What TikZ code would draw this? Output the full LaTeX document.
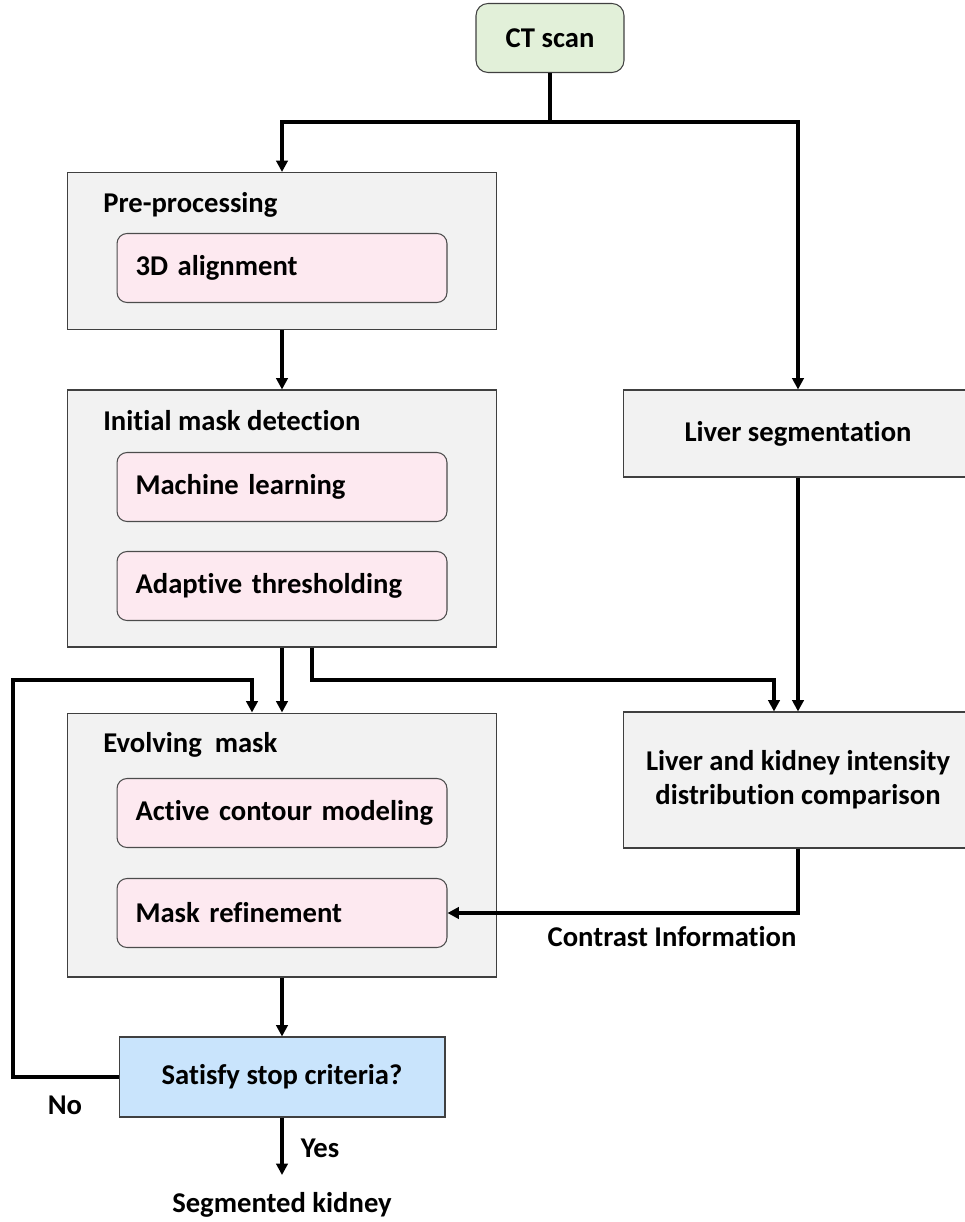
\documentclass[tikz,border=0pt]{standalone}
\usepackage{fontspec}
\setmainfont{Carlito}[Ligatures=NoCommon]
\usepackage{xcolor}
\usepackage{tikz}
\usetikzlibrary{positioning, arrows.meta, shapes}

\definecolor{scangreen}{RGB}{226,240,217}
\definecolor{stagegray}{RGB}{242,242,242}
\definecolor{steppink}{RGB}{253,233,240}
\definecolor{stopblue}{RGB}{201,228,252}

\tikzset{
    every node/.style={font=\bfseries\fontsize{16.3}{19.3}\selectfont},
    stage/.style={draw=black!75, line width=0.6pt, fill=stagegray, minimum width=8.6cm},
    sidebox/.style={draw=black!75, line width=0.6pt, fill=stagegray, minimum width=7cm, align=center},
    stepbox/.style={draw=black!70, line width=0.6pt, fill=steppink, rounded corners=0.2cm,
        minimum width=6.6cm, minimum height=1.38cm, text width=6.1cm, inner xsep=0.25cm,
        align=left, execute at begin node={\hspace*{0.12cm}}},
    stagelbl/.style={anchor=west, inner sep=0pt},
    conn/.style={line width=1.9pt},
    arr/.style={line width=1.9pt, -{Triangle[length=6.5pt, width=6.5pt]}}
}

\begin{document}
\begin{tikzpicture}[x=0.02cm, y=-0.02cm]
        \useasboundingbox (0,0) rectangle (964,1222);

        % Input
        \node[draw=black!75, line width=0.6pt, fill=scangreen, rounded corners=0.24cm,
            minimum width=2.96cm, minimum height=1.38cm] (ct) at (550,38) {CT scan};

        % Left column: stages with their steps
        \node[stage, minimum height=3.14cm] (pre) at (282,251) {};
        \node[stagelbl] (prelbl) at (103,205) {Pre-processing};
        \node[stepbox] (align) at (282,268) {3D alignment};

        \node[stage, minimum height=5.14cm] (init) at (282,518.5) {};
        \node[stagelbl] (initlbl) at (103,421) {Initial mask detection};
        \node[stepbox] (ml) at (282,487) {Machine learning};
        \node[stepbox] (thr) at (282,586) {Adaptive thresholding};

        \node[stage, minimum height=5.28cm] (evolve) at (282,845) {};
        \node[stagelbl] (evolvelbl) at (103,745) {Evolving\ \ mask};
        \node[stepbox] (acm) at (282,813) {Active contour modeling};
        \node[stepbox] (refine) at (282,913) {Mask refinement};

        \node[draw=black!75, line width=0.6pt, fill=stopblue, minimum width=6.52cm,
            minimum height=1.6cm] (stop) at (282,1077) {Satisfy stop criteria?};

        % Right column: liver branch
        \node[sidebox, minimum height=1.74cm] (liver) at (798,433.5) {Liver segmentation};
        \node[sidebox, minimum height=2.72cm] (compare) at (798,780)
            {Liver and kidney intensity\\distribution comparison};

        % Free labels
        \node (contrast) at (672,937) {Contrast Information};
        \node (no) at (65,1105) {No};
        \node (yes) at (320,1148) {Yes};
        \node (kidney) at (282,1205) {Segmented kidney};

        % Bends and free ends
        \coordinate (split) at (550,122);
        \coordinate (fork) at (312,680);
        \coordinate (cin) at (774,0);
        \coordinate (back) at (13,680);
        \coordinate (ein) at (252,0);
        \coordinate (done) at (282,1175);

        % Connectors
        \draw[conn] (ct) -- (split);
        \draw[arr] (split) -| (pre.north);
        \draw[arr] (split) -| (liver.north);
        \draw[arr] (pre) -- (init);
        \draw[arr] (init) -- (evolve);
        \draw[arr] (init.south -| fork) -- (fork) -| (compare.north -| cin);
        \draw[arr] (liver) -- (compare);
        \draw[arr] (compare.south) |- (refine.east);
        \draw[arr] (evolve) -- (stop);
        \draw[arr] (stop.west) -| (back) -| (evolve.north -| ein);
        \draw[arr] (stop) -- (done);
    \end{tikzpicture}
\end{document}
